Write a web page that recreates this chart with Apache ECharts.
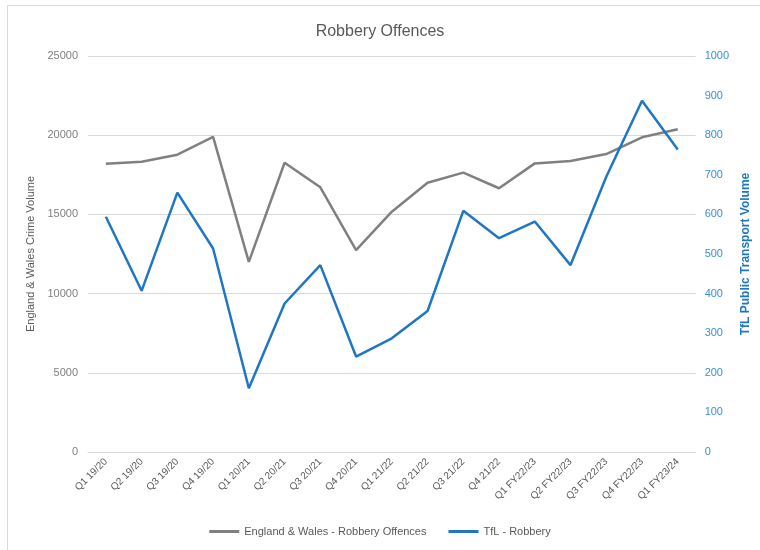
<!DOCTYPE html>
<html>
<head>
<meta charset="utf-8">
<script src="https://cdn.jsdelivr.net/npm/echarts@6/dist/echarts.min.js"></script>
<style>
  html, body { margin: 0; padding: 0; background: #fff; overflow: hidden; width: 760px; height: 550px; }
  #frame { position: absolute; left: 7px; top: 5px; width: 760px; height: 548px; border: 1px solid #d9d9d9; box-sizing: border-box; }
  #chart { position: absolute; left: 0; top: 0; width: 760px; height: 550px; }
</style>
</head>
<body>
<div id="frame"></div>
<div id="chart"></div>
<script>
// Quarterly periods
const quarters = [
  'Q1 19/20', 'Q2 19/20', 'Q3 19/20', 'Q4 19/20',
  'Q1 20/21', 'Q2 20/21', 'Q3 20/21', 'Q4 20/21',
  'Q1 21/22', 'Q2 21/22', 'Q3 21/22', 'Q4 21/22',
  'Q1 FY22/23', 'Q2 FY22/23', 'Q3 FY22/23', 'Q4 FY22/23',
  'Q1 FY23/24'
];

// England & Wales robbery offences (left axis)
const englandWales = [
  18200, 18330, 18770, 19900,
  12000, 18260, 16710, 12750,
  15170, 17000, 17640, 16650,
  18220, 18370, 18810, 19870,
  20370
];

// TfL public transport robbery (right axis)
const tflRobbery = [
  594, 407, 655, 514,
  161, 375, 472, 241,
  287, 356, 609, 540,
  582, 472, 695, 887,
  764
];

const leftTicks = { min: 0, max: 25000, interval: 5000 };
const rightTicks = { min: 0, max: 1000, interval: 100 };

const FONT = "'Liberation Sans Narrow', 'Liberation Sans', Arial, sans-serif";
const GREY = '#808080';
const BLUE = '#1f77c4';

const plain = v => String(v);

const chart = echarts.init(document.getElementById('chart'), null, { renderer: 'canvas' });
chart.setOption({
  backgroundColor: 'transparent',
  animation: false,
  title: {
    text: 'Robbery Offences',
    left: 'center',
    top: 19,
    textStyle: { fontFamily: FONT, fontSize: 16, fontWeight: 'normal', color: '#595959' }
  },
  legend: {
    bottom: 8,
    left: 'center',
    itemWidth: 30,
    itemHeight: 3,
    itemGap: 22,
    icon: 'rect',
    textStyle: { fontFamily: FONT, fontSize: 11, color: '#595959' },
    data: ['England & Wales - Robbery Offences', 'TfL - Robbery']
  },
  grid: { left: 88, right: 57, top: 56, bottom: 98 },
  xAxis: {
    type: 'category',
    data: quarters,
    boundaryGap: true,
    axisLine: { show: true, lineStyle: { color: '#d9d9d9' } },
    axisTick: { show: false },
    axisLabel: {
      interval: 0,
      rotate: 45,
      margin: 8,
      fontFamily: FONT,
      fontSize: 10,
      color: '#595959'
    }
  },
  yAxis: [
    {
      type: 'value',
      min: leftTicks.min,
      max: leftTicks.max,
      interval: leftTicks.interval,
      name: 'England & Wales Crime Volume',
      nameLocation: 'middle',
      nameGap: 43,
      nameRotate: 90,
      nameTextStyle: { fontFamily: FONT, fontSize: 11, color: '#595959' },
      axisLine: { show: false },
      axisTick: { show: false },
      splitLine: { lineStyle: { color: '#d9d9d9', width: 1 } },
      axisLabel: { fontFamily: FONT, fontSize: 11, color: '#7f7f7f', margin: 10, formatter: plain }
    },
    {
      type: 'value',
      min: rightTicks.min,
      max: rightTicks.max,
      interval: rightTicks.interval,
      name: 'TfL Public Transport Volume',
      nameLocation: 'middle',
      nameGap: 41,
      nameRotate: 90,
      nameTextStyle: { fontFamily: FONT, fontSize: 12, fontWeight: 'bold', color: BLUE },
      axisLine: { show: false },
      axisTick: { show: false },
      splitLine: { show: false },
      axisLabel: { fontFamily: FONT, fontSize: 11, color: '#3a8fd6', margin: 9, formatter: plain }
    }
  ],
  series: [
    {
      name: 'England & Wales - Robbery Offences',
      type: 'line',
      yAxisIndex: 0,
      data: englandWales,
      symbol: 'none',
      lineStyle: { color: GREY, width: 2.5 },
      itemStyle: { color: GREY },
      z: 2
    },
    {
      name: 'TfL - Robbery',
      type: 'line',
      yAxisIndex: 1,
      data: tflRobbery,
      symbol: 'none',
      lineStyle: { color: BLUE, width: 2.5 },
      itemStyle: { color: BLUE },
      z: 3
    }
  ]
});
</script>
</body>
</html>
